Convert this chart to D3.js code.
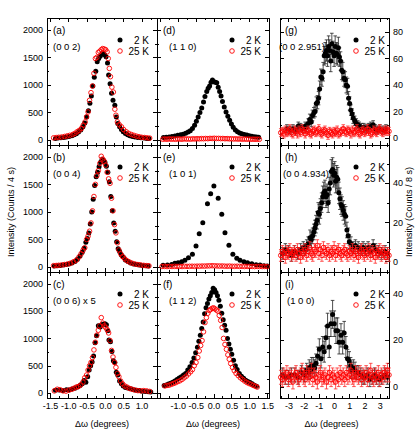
<!DOCTYPE html>
<html>
<head>
<meta charset="utf-8">
<script src="https://cdn.jsdelivr.net/npm/d3@7"></script>
<style>
  body { margin: 0; background: #fff; }
  svg { display: block; font-family: "Liberation Sans", Arial, sans-serif; }
</style>
</head>
<body>
<svg id="chart" width="415" height="443"></svg>
<script>
// ---- data: [Δω, counts] or [Δω, counts, error] ----
const a2K = [[-1.35,30],[-1.28,35],[-1.2,40],[-1.12,45],[-1.05,55],[-0.98,65],[-0.9,80],[-0.84,95],[-0.78,115],[-0.72,145],[-0.66,180],[-0.6,240],[-0.55,310],[-0.5,420],[-0.45,530],[-0.41,670],[-0.37,800],[-0.33,980],[-0.29,1140],[-0.25,1250],[-0.21,1420],[-0.17,1480],[-0.13,1520],[-0.09,1560],[-0.05,1570],[-0.01,1550],[0.03,1510],[0.07,1400],[0.1,1180],[0.14,1020],[0.18,850],[0.22,720],[0.27,630],[0.31,420],[0.35,300],[0.4,240],[0.45,190],[0.5,150],[0.56,120],[0.62,95],[0.68,80],[0.75,65],[0.82,55],[0.9,45],[0.98,40],[1.06,35],[1.14,30],[1.2,28]];
const a25K = [[-1.4,40],[-1.33,45],[-1.26,50],[-1.18,55],[-1.1,65],[-1.03,75],[-0.96,85],[-0.88,100],[-0.82,120],[-0.76,150],[-0.7,175],[-0.64,210],[-0.59,270],[-0.54,330],[-0.5,420],[-0.46,510],[-0.42,720],[-0.38,860],[-0.34,980],[-0.3,1210],[-0.26,1480],[-0.22,1500],[-0.18,1590],[-0.14,1610],[-0.1,1640],[-0.06,1660],[-0.02,1650],[0.02,1640],[0.06,1600],[0.09,1480],[0.12,1300],[0.15,1150],[0.19,960],[0.23,870],[0.27,560],[0.3,450],[0.34,330],[0.39,280],[0.45,240],[0.51,190],[0.58,150],[0.65,120],[0.72,100],[0.79,85],[0.86,70],[0.93,60],[1.0,50],[1.08,45],[1.15,40],[1.22,35]];

const b2K = [[-1.38,20],[-1.3,25],[-1.22,30],[-1.14,35],[-1.06,45],[-0.98,55],[-0.9,75],[-0.82,100],[-0.75,140],[-0.68,200],[-0.62,270],[-0.57,340],[-0.52,450],[-0.48,520],[-0.44,620],[-0.4,780],[-0.36,1000],[-0.32,1230],[-0.28,1480],[-0.24,1640],[-0.2,1720],[-0.16,1820],[-0.12,1900],[-0.08,1950],[-0.04,1940],[0.0,1900],[0.04,1830],[0.08,1720],[0.12,1550],[0.16,1280],[0.2,1020],[0.24,800],[0.28,650],[0.32,460],[0.36,330],[0.4,280],[0.45,220],[0.5,180],[0.56,130],[0.63,100],[0.7,75],[0.78,55],[0.86,45],[0.94,35],[1.02,28],[1.1,22],[1.18,18]];
const b25K = [[-1.4,25],[-1.33,28],[-1.26,32],[-1.18,38],[-1.1,45],[-1.02,55],[-0.94,70],[-0.86,95],[-0.78,125],[-0.71,180],[-0.65,240],[-0.6,300],[-0.55,350],[-0.5,500],[-0.46,560],[-0.42,650],[-0.38,800],[-0.34,1020],[-0.3,1280],[-0.26,1500],[-0.22,1660],[-0.18,1750],[-0.14,1880],[-0.1,2010],[-0.06,1960],[-0.02,1920],[0.02,1850],[0.06,1720],[0.1,1600],[0.14,1520],[0.18,1250],[0.22,1020],[0.26,770],[0.3,620],[0.34,440],[0.38,310],[0.43,240],[0.48,190],[0.54,150],[0.6,115],[0.67,90],[0.74,70],[0.82,55],[0.9,45],[0.98,38],[1.06,30],[1.14,25],[1.2,22]];

const c2K = [[-1.35,50],[-1.25,55],[-1.15,45],[-1.05,60],[-0.98,55],[-0.9,75],[-0.82,90],[-0.75,110],[-0.68,140],[-0.62,170],[-0.57,230],[-0.52,200],[-0.47,300],[-0.43,420],[-0.39,500],[-0.35,570],[-0.31,680],[-0.27,920],[-0.23,1050],[-0.18,1230],[-0.13,1210],[-0.09,1250],[-0.04,1260],[0.0,1270],[0.04,1250],[0.08,1140],[0.11,970],[0.15,940],[0.19,760],[0.23,590],[0.27,560],[0.31,380],[0.35,330],[0.4,220],[0.45,170],[0.5,130],[0.56,100],[0.62,95],[0.7,80],[0.78,60],[0.86,50],[0.94,45],[1.02,35],[1.1,30],[1.18,25],[1.25,20]];
const c25K = [[-1.38,40],[-1.3,70],[-1.22,60],[-1.14,40],[-1.06,35],[-0.98,55],[-0.9,70],[-0.84,90],[-0.78,110],[-0.72,120],[-0.66,150],[-0.6,200],[-0.55,280],[-0.5,330],[-0.46,420],[-0.42,500],[-0.38,560],[-0.34,650],[-0.3,790],[-0.26,930],[-0.22,1060],[-0.18,1150],[-0.14,1230],[-0.1,1380],[-0.06,1280],[-0.02,1230],[0.02,1200],[0.06,1160],[0.1,1100],[0.14,960],[0.18,780],[0.22,660],[0.26,560],[0.3,470],[0.34,360],[0.38,300],[0.43,220],[0.48,170],[0.54,130],[0.6,110],[0.67,85],[0.74,70],[0.82,55],[0.9,45],[0.98,40],[1.06,45],[1.14,40],[1.22,30]];

const d2K = [[-1.4,45],[-1.32,50],[-1.24,55],[-1.16,65],[-1.08,75],[-1.0,85],[-0.92,95],[-0.85,105],[-0.78,125],[-0.71,145],[-0.65,170],[-0.59,210],[-0.53,270],[-0.48,340],[-0.43,420],[-0.38,500],[-0.33,580],[-0.28,690],[-0.24,790],[-0.19,880],[-0.15,940],[-0.11,980],[-0.07,1050],[-0.03,1090],[0.01,1060],[0.05,1050],[0.09,1040],[0.13,960],[0.17,880],[0.21,800],[0.25,700],[0.3,600],[0.35,510],[0.4,430],[0.45,360],[0.5,290],[0.55,230],[0.61,180],[0.67,150],[0.73,130],[0.79,115],[0.86,100],[0.93,90],[1.0,80],[1.07,70],[1.14,62],[1.2,55],[1.26,50]];
const d25K = [[-1.42,15],[-1.36,18],[-1.3,15],[-1.24,20],[-1.18,16],[-1.12,18],[-1.06,14],[-1.0,20],[-0.94,18],[-0.88,15],[-0.82,22],[-0.76,18],[-0.7,20],[-0.64,17],[-0.58,22],[-0.52,20],[-0.46,24],[-0.4,22],[-0.34,26],[-0.28,24],[-0.22,28],[-0.16,25],[-0.1,30],[-0.04,28],[0.02,32],[0.08,28],[0.14,30],[0.2,26],[0.26,28],[0.32,24],[0.38,26],[0.44,22],[0.5,24],[0.56,20],[0.62,22],[0.68,18],[0.74,20],[0.8,16],[0.86,18],[0.92,15],[0.98,17],[1.04,14],[1.1,16],[1.16,14],[1.22,15],[1.28,13]];

const e2K = [[-1.41,31],[-1.29,36],[-1.17,48],[-1.08,67],[-0.99,79],[-0.89,97],[-0.8,121],[-0.7,169],[-0.59,230],[-0.49,381],[-0.4,604],[-0.3,804],[-0.17,1149],[-0.08,1331],[0.01,1470],[0.13,1247],[0.23,956],[0.32,623],[0.43,394],[0.54,230],[0.65,158],[0.74,121],[0.85,97],[0.95,79],[1.07,61],[1.19,43],[1.3,36],[1.41,24],[1.5,18]];
const e25K = [[-1.44,10],[-1.37,12],[-1.3,9],[-1.23,11],[-1.16,10],[-1.09,13],[-1.02,11],[-0.95,12],[-0.88,10],[-0.81,14],[-0.74,12],[-0.67,13],[-0.6,15],[-0.53,13],[-0.46,16],[-0.39,15],[-0.32,18],[-0.25,17],[-0.18,20],[-0.11,22],[-0.04,24],[0.03,22],[0.1,20],[0.17,18],[0.24,19],[0.31,16],[0.38,15],[0.45,17],[0.52,14],[0.59,13],[0.66,15],[0.73,12],[0.8,13],[0.87,11],[0.94,12],[1.01,10],[1.08,11],[1.15,9],[1.22,11],[1.29,10],[1.36,9],[1.43,10],[1.5,8]];

const f2K = [[-1.38,140],[-1.32,150],[-1.26,165],[-1.2,180],[-1.14,200],[-1.08,220],[-1.02,250],[-0.96,275],[-0.9,300],[-0.84,330],[-0.78,360],[-0.72,420],[-0.66,480],[-0.6,560],[-0.55,640],[-0.5,740],[-0.45,840],[-0.41,950],[-0.37,1060],[-0.33,1180],[-0.29,1300],[-0.25,1450],[-0.21,1560],[-0.17,1640],[-0.13,1720],[-0.09,1780],[-0.05,1840],[-0.01,1920],[0.03,1890],[0.07,1840],[0.11,1780],[0.15,1700],[0.19,1590],[0.23,1460],[0.27,1340],[0.31,1240],[0.35,1150],[0.39,1000],[0.43,900],[0.47,800],[0.51,710],[0.56,600],[0.61,500],[0.66,430],[0.72,360],[0.78,310],[0.84,270],[0.9,235],[0.96,210],[1.02,195],[1.08,170],[1.14,145],[1.2,125]];
const f25K = [[-1.36,130],[-1.3,140],[-1.24,145],[-1.18,160],[-1.12,175],[-1.06,190],[-1.0,210],[-0.94,225],[-0.88,250],[-0.82,280],[-0.76,310],[-0.7,350],[-0.64,390],[-0.59,430],[-0.54,500],[-0.49,560],[-0.44,650],[-0.4,770],[-0.36,870],[-0.32,960],[-0.28,1120],[-0.24,1290],[-0.2,1380],[-0.16,1460],[-0.12,1510],[-0.08,1530],[-0.04,1550],[0.0,1560],[0.04,1540],[0.08,1520],[0.12,1500],[0.16,1420],[0.2,1330],[0.24,1200],[0.28,1000],[0.32,890],[0.36,800],[0.4,700],[0.44,620],[0.48,540],[0.53,470],[0.58,410],[0.63,360],[0.69,320],[0.75,280],[0.81,250],[0.87,220],[0.93,195],[0.99,175],[1.05,160],[1.11,140],[1.17,125],[1.22,110]];

const g2K = [[-3.1,7,3],[-2.9,6,3],[-2.7,7,3],[-2.5,6,3],[-2.35,9,3],[-2.2,8,3],[-2.05,7,3],[-1.9,9,3],[-1.8,8,3],[-1.7,11,3.5],[-1.6,14,4],[-1.5,12,3.5],[-1.42,17,4],[-1.33,19,4],[-1.25,20,4],[-1.17,26,5],[-1.09,27,5],[-1.02,30,5],[-0.95,37,6],[-0.87,46,6],[-0.8,45,6],[-0.72,50,7],[-0.65,62,7],[-0.58,64,8],[-0.5,66,8],[-0.43,62,8],[-0.36,69,8],[-0.29,66,8],[-0.22,58,8],[-0.15,71,8],[-0.08,65,8],[0.0,62,8],[0.07,69,8],[0.14,64,8],[0.21,63,8],[0.28,68,8],[0.35,61,7],[0.42,58,7],[0.5,51,7],[0.57,50,7],[0.65,45,6],[0.73,44,6],[0.8,40,6],[0.88,39,6],[0.95,30,5],[1.02,26,5],[1.1,21,4],[1.18,18,4],[1.25,15,4],[1.35,13,3.5],[1.45,11,3.5],[1.55,10,3],[1.65,9,3],[1.8,8,3],[1.95,8,3],[2.1,7,3],[2.25,8,3],[2.4,9,3],[2.56,10,3],[2.7,7,3],[2.85,6,3],[3.0,7,3],[3.2,6,3],[3.4,7,3]];
const g25K = [[-3.5,4,3],[-3.4,5,3],[-3.3,3,3],[-3.2,6,3],[-3.1,4,3],[-3.0,5,3],[-2.9,7,3],[-2.8,4,3],[-2.7,3,3],[-2.6,6,3],[-2.5,5,3],[-2.4,3,3],[-2.3,6,3],[-2.2,4,3],[-2.1,7,3],[-2.0,5,3],[-1.9,3,3],[-1.8,5,3],[-1.7,6,3],[-1.6,4,3],[-1.5,3,3],[-1.4,5,3],[-1.3,6,3],[-1.2,4,3],[-1.1,5,3],[-1.0,7,3],[-0.9,4,3],[-0.8,3,3],[-0.7,5,3],[-0.6,6,3],[-0.5,4,3],[-0.4,2,3],[-0.3,5,3],[-0.2,4,3],[-0.1,3,3],[0.0,5,3],[0.1,4,3],[0.2,6,3],[0.3,3,3],[0.4,4,3],[0.5,5,3],[0.6,7,3],[0.7,5,3],[0.8,4,3],[0.9,6,3],[1.0,5,3],[1.1,3,3],[1.2,6,3],[1.3,4,3],[1.4,5,3],[1.5,7,3],[1.6,4,3],[1.7,3,3],[1.8,5,3],[1.9,6,3],[2.0,4,3],[2.1,5,3],[2.2,7,3],[2.3,5,3],[2.4,3,3],[2.5,4,3],[2.6,6,3],[2.7,5,3],[2.8,4,3],[2.9,6,3],[3.0,7,3],[3.1,5,3],[3.2,4,3],[3.3,6,3],[3.4,5,3],[3.5,6,3],[3.6,5,3]];

const h2K = [[-3.4,4,3],[-3.2,6,3],[-3.0,5,3],[-2.8,3,3],[-2.6,5,3],[-2.4,4,3],[-2.2,6,3],[-2.02,7,3],[-1.9,6,3],[-1.8,8,3],[-1.7,9,3.5],[-1.58,12,4],[-1.5,11,4],[-1.41,13,4],[-1.33,15,4],[-1.26,17,4],[-1.19,19,4.5],[-1.12,21,4.5],[-1.04,25,5],[-0.97,24,5],[-0.9,27,5],[-0.82,30,5],[-0.75,33,5.5],[-0.68,35,5.5],[-0.6,36,5.5],[-0.53,33,5.5],[-0.46,34,5.5],[-0.39,30,5],[-0.32,37,6],[-0.25,40,6],[-0.18,46,6],[-0.1,47,6],[-0.03,44,6],[0.04,45,6],[0.1,41,6],[0.17,43,6],[0.24,42,6],[0.31,35,5.5],[0.38,32,5.5],[0.45,29,5],[0.52,28,5],[0.6,26,5],[0.68,24,5],[0.76,23,5],[0.84,16,4],[0.92,13,4],[1.0,10,3.5],[1.1,9,3.5],[1.25,7,3],[1.4,8,3],[1.58,7,3],[1.75,6,3],[1.9,7,3],[2.05,6,3],[2.23,7,3],[2.4,5,3],[2.56,8,3],[2.72,6,3],[2.9,5,3],[3.1,4,3],[3.34,5,3],[3.5,4,3]];
const h25K = [[-3.5,3,3],[-3.4,5,3],[-3.3,4,3],[-3.2,2,3],[-3.1,5,3],[-3.0,4,3],[-2.9,6,3],[-2.8,3,3],[-2.7,4,3],[-2.6,5,3],[-2.5,3,3],[-2.4,6,3],[-2.3,4,3],[-2.2,2,3],[-2.1,5,3],[-2.0,4,3],[-1.9,6,3],[-1.8,3,3],[-1.7,5,3],[-1.6,7,3],[-1.5,4,3],[-1.4,3,3],[-1.3,6,3],[-1.2,5,3],[-1.1,8,3],[-1.0,4,3],[-0.9,6,3],[-0.8,3,3],[-0.7,7,3],[-0.6,5,3],[-0.5,4,3],[-0.4,6,3],[-0.3,3,3],[-0.2,5,3],[-0.1,4,3],[0.0,7,3],[0.1,3,3],[0.2,5,3],[0.3,6,3],[0.4,4,3],[0.5,3,3],[0.6,5,3],[0.7,6,3],[0.8,4,3],[0.9,3,3],[1.0,5,3],[1.1,4,3],[1.2,6,3],[1.3,3,3],[1.4,5,3],[1.5,4,3],[1.6,2,3],[1.7,5,3],[1.8,6,3],[1.9,4,3],[2.0,3,3],[2.1,5,3],[2.2,4,3],[2.3,6,3],[2.4,3,3],[2.5,5,3],[2.6,4,3],[2.7,2,3],[2.8,5,3],[2.9,4,3],[3.0,6,3],[3.1,3,3],[3.2,5,3],[3.3,4,3],[3.4,2,3],[3.5,4,3],[3.6,3,3]];

const i2K = [[-3.4,5,3],[-3.2,4,3],[-3.0,4,3],[-2.8,5,3],[-2.57,5,3],[-2.35,4,3],[-2.14,6,3],[-1.95,5,3],[-1.8,7,3],[-1.7,6,3],[-1.63,8,3.5],[-1.55,7,3.5],[-1.47,9,3.5],[-1.37,9,3.5],[-1.28,8,3.5],[-1.19,10,4],[-1.08,13,4],[-0.97,16,4.5],[-0.86,12,4],[-0.75,17,4.5],[-0.65,15,4.5],[-0.54,21,5],[-0.43,26,5.5],[-0.32,17,4.5],[-0.21,27,5.5],[-0.1,31,6],[0.01,27,5.5],[0.12,24,5.5],[0.23,24,5.5],[0.33,19,5],[0.45,22,5],[0.56,19,5],[0.66,23,5],[0.77,17,4.5],[0.88,12,4],[0.99,11,4],[1.08,9,3.5],[1.15,7,3.5],[1.26,8,3.5],[1.37,7,3.5],[1.48,6,3],[1.58,6,3],[1.75,5,3],[1.9,4,3],[2.0,4,3],[2.17,5,3],[2.34,3,3],[2.5,4,3],[2.65,5,3],[2.78,4,3],[2.95,3,3],[3.12,4,3],[3.32,5,3],[3.5,4,3]];
const i25K = [[-3.5,4,3],[-3.4,3,3],[-3.3,5,3],[-3.2,4,3],[-3.1,6,3],[-3.0,3,3],[-2.9,5,3],[-2.8,4,3],[-2.7,2,3],[-2.6,5,3],[-2.5,6,3],[-2.4,4,3],[-2.3,3,3],[-2.2,5,3],[-2.1,7,3],[-2.0,4,3],[-1.9,3,3],[-1.8,6,3],[-1.7,5,3],[-1.6,4,3],[-1.5,7,3],[-1.4,3,3],[-1.3,5,3],[-1.2,4,3],[-1.1,2,3],[-1.0,5,3],[-0.9,6,3],[-0.8,3,3],[-0.7,4,3],[-0.6,5,3],[-0.5,2,3],[-0.4,4,3],[-0.3,6,3],[-0.2,3,3],[-0.1,5,3],[0.0,4,3],[0.1,2,3],[0.2,5,3],[0.3,3,3],[0.4,6,3],[0.5,4,3],[0.6,5,3],[0.7,3,3],[0.8,6,3],[0.9,4,3],[1.0,5,3],[1.1,7,3],[1.2,4,3],[1.3,3,3],[1.4,6,3],[1.5,5,3],[1.6,4,3],[1.7,6,3],[1.8,3,3],[1.9,5,3],[2.0,4,3],[2.1,6,3],[2.2,3,3],[2.3,5,3],[2.4,7,3],[2.5,4,3],[2.6,3,3],[2.7,5,3],[2.8,4,3],[2.9,6,3],[3.0,3,3],[3.1,5,3],[3.2,4,3],[3.3,6,3],[3.4,5,3],[3.5,7,3],[3.6,5,3]];

// panels run down each column: a b c | d e f | g h i
const panelLetters = ["(a)","(b)","(c)","(d)","(e)","(f)","(g)","(h)","(i)"];
const reflections = ["(0 0 2)","(0 0 4)","(0 0 6) x 5","(1 1 0)","(1 0 1)","(1 1 2)","(0 0 2.951)","(0 0 4.934)","(1 0 0)"];
const series2K = [a2K, b2K, c2K, d2K, e2K, f2K, g2K, h2K, i2K];
const series25K = [a25K, b25K, c25K, d25K, e25K, f25K, g25K, h25K, i25K];
const legendNames = ["2 K", "25 K"];

const xDomains = [[-1.58, 1.42], [-1.58, 1.55], [-3.55, 3.6]];
const yDomains = [[-90,2215],[-90,2215],[-90,2215],[-90,2215],[-90,2215],[-90,2215],[-5.3,90.5],[-5.5,59.5],[-4.9,49.2]];

const xMajorSmall = [-1.5,-1,-0.5,0,0.5,1,1.5];
const xMinorSmall = [-1.25,-0.75,-0.25,0.25,0.75,1.25];
const xMajorWide = [-3,-2,-1,0,1,2,3];
const xMinorWide = [-3.5,-2.5,-1.5,-0.5,0.5,1.5,2.5,3.5];
const xLabels = [[-1.5,-1,-0.5,0,0.5,1], [-1,-0.5,0,0.5,1,1.5], [-3,-2,-1,0,1,2,3]];
const yMajorCounts = [0,500,1000,1500,2000];
const yMinorCounts = [250,750,1250,1750];
const yMajorRate = [0,20,40,60,80];
const yMinorRate = [10,30,50,70];

// ---- layout ----
const colEdges = [[47,157],[157,269],[280,389]];
const rowEdges = [[18,145],[145,272],[272,398]];
const hklDx = [6,6,6,12,12,12,-1,3,7];
const legendOff = [37,37,33];
const FONT = "'Liberation Sans', Arial, sans-serif";

const svg = d3.select("#chart");

function styleAxis(sel) {
  sel.select(".domain").remove();
  sel.attr("font-family", FONT).attr("font-size", 9);
  sel.selectAll("line").attr("stroke", "#000").attr("shape-rendering", "crispEdges");
  sel.selectAll("text").attr("fill", "#000");
}

series2K.forEach((_, i) => {
  const col = Math.floor(i / 3), row = i % 3;
  const [x0, x1] = colEdges[col];
  const [y0, y1] = rowEdges[row];
  const x = d3.scaleLinear().domain(xDomains[col]).range([x0, x1]);
  const y = d3.scaleLinear().domain(yDomains[i]).range([y1, y0]);
  const inX = v => v >= x.domain()[0] && v <= x.domain()[1];
  const inY = v => v >= y.domain()[0] && v <= y.domain()[1];

  const xMaj = (col === 2 ? xMajorWide : xMajorSmall).filter(inX);
  const xMin = (col === 2 ? xMinorWide : xMinorSmall).filter(inX);
  const yMaj = (col === 2 ? yMajorRate : yMajorCounts).filter(inY);
  const yMin = (col === 2 ? yMinorRate : yMinorCounts).filter(inY);
  const xFmt = col === 2 ? (d => String(d)) : (d => d.toFixed(1));
  const showX = row === 2;

  const g = svg.append("g");

  // ticks on all four sides, pointing inward
  g.append("g").attr("transform", `translate(0,${y1})`)
    .call(d3.axisBottom(x).tickValues(xMaj).tickSize(-4).tickPadding(5)
      .tickFormat(d => showX && xLabels[col].includes(d) ? xFmt(d) : ""))
    .call(styleAxis);
  g.append("g").attr("transform", `translate(0,${y1})`)
    .call(d3.axisBottom(x).tickValues(xMin).tickSize(-2).tickFormat(""))
    .call(styleAxis);
  g.append("g").attr("transform", `translate(0,${y0})`)
    .call(d3.axisTop(x).tickValues(xMaj).tickSize(-4).tickFormat(""))
    .call(styleAxis);
  g.append("g").attr("transform", `translate(0,${y0})`)
    .call(d3.axisTop(x).tickValues(xMin).tickSize(-2).tickFormat(""))
    .call(styleAxis);

  g.append("g").attr("transform", `translate(${x0},0)`)
    .call(d3.axisLeft(y).tickValues(yMaj).tickSize(-4).tickPadding(4)
      .tickFormat(d => col === 0 ? String(d) : ""))
    .call(styleAxis);
  g.append("g").attr("transform", `translate(${x0},0)`)
    .call(d3.axisLeft(y).tickValues(yMin).tickSize(-2).tickFormat(""))
    .call(styleAxis);
  g.append("g").attr("transform", `translate(${x1},0)`)
    .call(d3.axisRight(y).tickValues(yMaj).tickSize(-4).tickPadding(4)
      .tickFormat(d => col === 2 ? String(d) : ""))
    .call(styleAxis);
  g.append("g").attr("transform", `translate(${x1},0)`)
    .call(d3.axisRight(y).tickValues(yMin).tickSize(-2).tickFormat(""))
    .call(styleAxis);

  g.append("rect")
    .attr("x", x0).attr("y", y0)
    .attr("width", x1 - x0).attr("height", y1 - y0)
    .attr("fill", "none").attr("stroke", "#000").attr("stroke-width", 1)
    .attr("shape-rendering", "crispEdges");

  // error bars (only the right-hand column has them)
  function errorBars(data, color) {
    if (col !== 2) return;
    g.append("g").selectAll("path")
      .data(data)
      .join("path")
      .attr("d", d => {
        const cx = x(d[0]), top = y(d[1] + d[2]), bot = y(d[1] - d[2]);
        return `M${cx},${top}V${bot}M${cx - 1.8},${top}h3.6M${cx - 1.8},${bot}h3.6`;
      })
      .attr("fill", "none")
      .attr("stroke", color)
      .attr("stroke-width", 0.8);
  }

  errorBars(series2K[i], "#222");
  g.append("g").selectAll("circle")
    .data(series2K[i])
    .join("circle")
    .attr("cx", d => x(d[0]))
    .attr("cy", d => y(d[1]))
    .attr("r", 2.5)
    .attr("fill", "#000");

  errorBars(series25K[i], "#ff2a2a");
  g.append("g").selectAll("circle")
    .data(series25K[i])
    .join("circle")
    .attr("cx", d => x(d[0]))
    .attr("cy", d => y(d[1]))
    .attr("r", 2.3)
    .attr("fill", "none")
    .attr("stroke", "#ff0000")
    .attr("stroke-width", 0.9);

  // panel letter and reflection
  g.append("text")
    .attr("x", x0 + (col === 2 ? 5 : 6)).attr("y", y0 + 15.5)
    .attr("font-family", FONT).attr("font-size", 10)
    .text(panelLetters[i]);
  g.append("text")
    .attr("x", x0 + hklDx[i]).attr("y", y0 + 32)
    .attr("font-family", FONT).attr("font-size", 9.5)
    .text(reflections[i]);

  // legend
  const lx = x1 - legendOff[col];
  [0, 1].forEach(k => {
    const ly = y0 + 22 + k * 11;
    const m = g.append("circle").attr("cx", lx).attr("cy", ly);
    if (k === 0) m.attr("r", 2.5).attr("fill", "#000");
    else m.attr("r", 2.3).attr("fill", "none").attr("stroke", "#ff0000").attr("stroke-width", 0.9);
    g.append("text")
      .attr("x", lx + 29).attr("y", ly + 3.6)
      .attr("text-anchor", "end")
      .attr("font-family", FONT).attr("font-size", 10)
      .text(legendNames[k]);
  });
});

// axis titles
colEdges.forEach(([a, b], c) => {
  svg.append("text")
    .attr("x", (a + b) / 2 - (c === 2 ? 3 : 0)).attr("y", 427)
    .attr("text-anchor", "middle")
    .attr("font-family", FONT).attr("font-size", 9)
    .text("Δω (degrees)");
});

svg.append("text")
  .attr("transform", "translate(14,212) rotate(-90)")
  .attr("text-anchor", "middle")
  .attr("font-family", FONT).attr("font-size", 9)
  .text("Intensity (Counts / 4 s)");

svg.append("text")
  .attr("transform", "translate(412,212) rotate(-90)")
  .attr("text-anchor", "middle")
  .attr("font-family", FONT).attr("font-size", 9)
  .text("Intensity (Counts / 8 s)");
</script>
</body>
</html>
